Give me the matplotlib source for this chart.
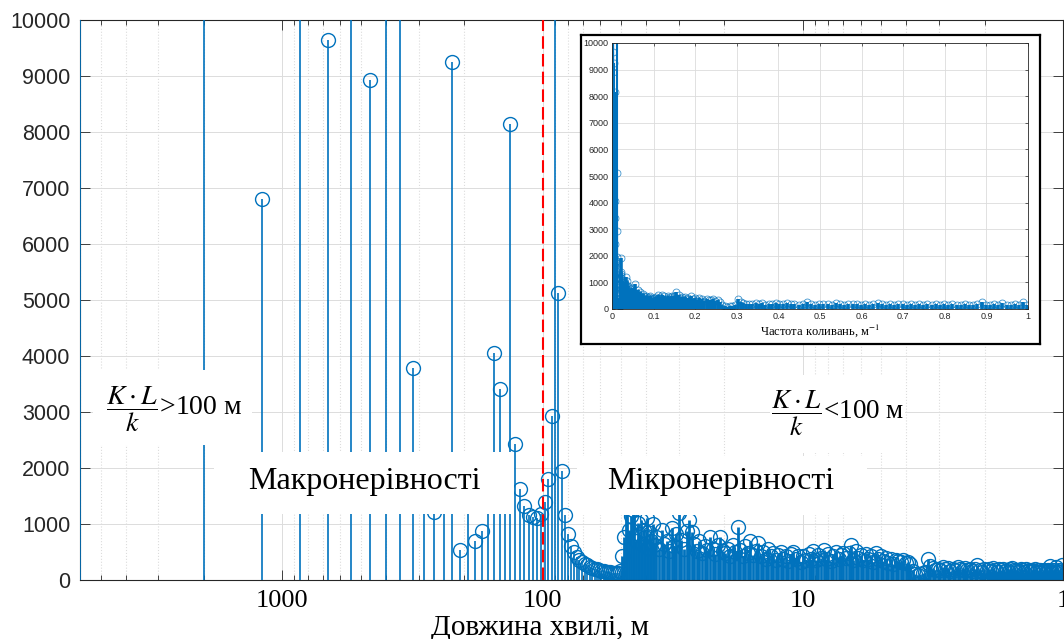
import numpy as np
import matplotlib
matplotlib.use('Agg')
import matplotlib.pyplot as plt
from matplotlib.patches import Rectangle
from matplotlib.ticker import FixedLocator, LogLocator, NullFormatter

# profile length, m (wavelength of harmonic k is L_total / k)
L_total = 6000

# long waves: odd harmonics 1..119 (values above 10000 run off the chart)
k_long = [1, 3, 5, 7, 9, 11, 13, 15, 17, 19,
          21, 23, 25, 27, 29, 31, 33, 35, 37, 39,
          41, 43, 45, 47, 49, 51, 53, 55, 57, 59,
          61, 63, 65, 67, 69, 71, 73, 75, 77, 79,
          81, 83, 85, 87, 89, 91, 93, 95, 97, 99,
          101, 103, 105, 107, 109, 111, 113, 115, 117, 119]
amp_long = [30000, 20000, 6800, 16000, 9650, 14000, 8920, 12000, 11000, 3780,
            1900, 1210, 1800, 9250, 540, 1900, 690, 880, 1600, 4060,
            3410, 1700, 8150, 2430, 1630, 1320, 1160, 1130, 1110, 1170,
            1390, 1800, 2920, 18000, 5130, 1950, 1160, 816, 613, 494,
            417, 360, 320, 290, 262, 240, 220, 205, 190, 178,
            168, 158, 150, 142, 136, 130, 126, 122, 120, 160]

# short waves (dense part of the spectrum), sampled harmonics
k_short = [121, 123, 125, 127, 129, 131, 133, 135, 137, 139, 141, 143, 145, 147, 149,
           151, 153, 155, 157, 159, 161,
           164, 168, 172, 176, 180, 184, 188, 192, 196, 200, 205, 210, 215, 220, 225,
           230, 235, 240, 246, 252, 258, 264, 270, 276, 282, 288, 295,
           302, 309, 316, 323, 330, 337, 345, 353, 361, 369, 377, 386, 395, 404, 413,
           422, 432, 442, 452, 462, 472, 483, 494, 505, 516, 528, 540, 552, 564, 577, 590,
           603, 617, 631, 645, 659, 674, 689, 705, 721, 737, 753, 770, 787, 805, 823,
           841, 860, 879, 899, 919, 939, 960, 981, 1003, 1025, 1048, 1071, 1095, 1119,
           1144, 1169, 1195, 1222, 1249, 1277, 1305, 1334, 1364, 1394,
           1425, 1457, 1489, 1522, 1556, 1591, 1626, 1662, 1699, 1737, 1776, 1815, 1855,
           1896, 1938, 1981, 2025, 2070, 2116, 2163, 2211, 2260, 2310, 2361, 2413, 2466,
           2520, 2575, 2632, 2690, 2750,
           2810, 2870, 2930, 2990, 3050, 3110, 3170, 3230, 3290, 3350,
           3410, 3470, 3530, 3590, 3650, 3710, 3770, 3830, 3890, 3950,
           4010, 4070, 4130, 4190, 4250, 4310, 4370, 4430, 4490, 4550,
           4610, 4670, 4730, 4790, 4850, 4910, 4970, 5030, 5090, 5150,
           5210, 5270, 5330, 5390, 5450, 5510, 5570, 5630, 5690, 5750,
           5810, 5870, 5930, 5990]
amp_short = [420, 760, 1400, 1300, 900, 1150, 1250, 1900, 700, 1020, 830, 1070, 640, 900, 760,
             1100, 580, 840, 700, 1000, 620,
             760, 560, 900, 640, 700, 520, 930, 600, 820, 1190, 720, 560, 880, 1070, 860,
             640, 520, 700, 480, 600, 540, 770, 560, 460, 620, 774, 520,
             480, 560, 430, 620, 500, 950, 540, 420, 600, 480, 700, 440, 520, 655, 420,
             500, 380, 560, 420, 480, 360, 440, 500, 380, 420, 340, 460, 506, 380, 420, 330,
             420, 350, 460, 380, 520, 360, 440, 400, 536, 380, 470, 340, 420, 500, 380,
             450, 480, 400, 480, 625, 360, 520, 400, 440, 360, 460, 380, 420, 330,
             480, 380, 430, 340, 400, 310, 380, 290, 360, 340,
             320, 360, 300, 330, 280, 160, 110, 90, 100, 120, 150, 369, 250,
             220, 180, 200, 170, 230, 190, 210, 160, 200, 180, 240, 190, 170,
             210, 180, 200, 160, 190,
             268, 180, 150, 200, 170, 190, 160, 210, 180, 150,
             190, 170, 200, 160, 180, 150, 190, 210, 170, 150,
             180, 160, 200, 170, 150, 190, 160, 180, 140, 170,
             160, 190, 150, 170, 140, 180, 160, 150, 170, 140,
             160, 180, 250, 160, 140, 170, 150, 230, 160, 140,
             170, 150, 270, 160]

xticks = [1000, 100, 10, 1]
xtick_labels = ['1000', '100', '10', '1']
yticks = [0, 1000, 2000, 3000, 4000, 5000, 6000, 7000, 8000, 9000, 10000]
inset_xticks = [0, 0.1, 0.2, 0.3, 0.4, 0.5, 0.6, 0.7, 0.8, 0.9, 1]
inset_xtick_labels = ['0', '0.1', '0.2', '0.3', '0.4', '0.5', '0.6', '0.7', '0.8', '0.9', '1']

blue = '#0072BD'
grid_col = '#DCDCDC'
axis_col = '#262626'

plt.rcParams['mathtext.fontset'] = 'stix'
W, H = 1064, 639


def fig_box(x0, y0, x1, y1):
    # pixel box (top-left origin) -> figure fraction [left, bottom, width, height]
    return [x0 / W, 1 - y1 / H, (x1 - x0) / W, (y1 - y0) / H]


AX_PX = (80, 20, 1063, 580)


def ax_frac(px, py):
    x0, y0, x1, y1 = AX_PX
    return (px - x0) / (x1 - x0), (y1 - py) / (y1 - y0)


fig = plt.figure(figsize=(W / 100, H / 100), dpi=100)
ax = fig.add_axes(fig_box(*AX_PX))

wl_long = L_total / np.array(k_long, dtype=float)
wl_short = L_total / np.array(k_short, dtype=float)

ml, sl, bl = ax.stem(wl_long, amp_long, linefmt='-', markerfmt='o', basefmt=' ')
plt.setp(sl, color=blue, linewidth=1.2, zorder=2.6)
plt.setp(ml, color=blue, markerfacecolor='none', markersize=10, markeredgewidth=1.0)

ml2, sl2, bl2 = ax.stem(wl_short, amp_short, linefmt='-', markerfmt='o', basefmt=' ')
plt.setp(sl2, color=blue, linewidth=2.0)
plt.setp(ml2, color=blue, markerfacecolor='none', markersize=10, markeredgewidth=1.0)

ax.axvline(100, color='red', linestyle='--', dashes=(6, 2.5), linewidth=1.5, zorder=3)

ax.set_xscale('log')
ax.set_xlim(L_total, 1)
ax.set_ylim(0, 10000)
ax.xaxis.set_major_locator(FixedLocator(xticks))
ax.set_xticklabels(xtick_labels, family='Liberation Serif', fontsize=19)
ax.xaxis.set_minor_locator(LogLocator(base=10, subs=np.arange(2, 10)))
ax.xaxis.set_minor_formatter(NullFormatter())
ax.set_yticks(yticks)
ax.set_yticklabels([str(v) for v in yticks], family='Liberation Sans', fontsize=15.5,
                   color=axis_col)

ax.tick_params(which='both', direction='in', top=True, right=True, color=axis_col, width=0.6)
ax.tick_params(which='major', length=7)
ax.tick_params(which='minor', length=3.5)
ax.tick_params(axis='x', which='major', pad=7)
ax.tick_params(axis='y', which='major', pad=7)
ax.grid(True, which='major', color=grid_col, linewidth=0.7)
ax.grid(True, which='minor', axis='x', color=grid_col, linestyle=':', linewidth=0.8)
ax.set_axisbelow(True)
for s in ax.spines.values():
    s.set_color(axis_col)
    s.set_linewidth(0.8)

ax.set_xlabel('Довжина хвилі, м', family='Liberation Serif', fontsize=21)
ax.xaxis.set_label_coords(*ax_frac(540, 615))

# white label boxes over the stems
for bx in [(93, 370, 252, 445), (214, 452, 514, 514), (577, 456, 867, 515), (770, 375, 905, 453)]:
    fx0, fy0 = ax_frac(bx[0], bx[3])
    fx1, fy1 = ax_frac(bx[2], bx[1])
    ax.add_patch(Rectangle((fx0, fy0), fx1 - fx0, fy1 - fy0, transform=ax.transAxes,
                           facecolor='white', edgecolor='none', zorder=4))

ax.text(*ax_frac(106, 409), r'$\dfrac{K\cdot L}{k}$' + '>100 м', transform=ax.transAxes,
        ha='left', va='center', fontsize=20, family='Liberation Serif', zorder=5)
ax.text(*ax_frac(771, 413), r'$\dfrac{K\cdot L}{k}$' + '<100 м', transform=ax.transAxes,
        ha='left', va='center', fontsize=19.5, family='Liberation Serif', zorder=5)
ax.text(*ax_frac(364, 481), 'Макронерівності', transform=ax.transAxes,
        ha='center', va='center', fontsize=23, family='Liberation Serif', zorder=5)
ax.text(*ax_frac(721, 481), 'Мікронерівності', transform=ax.transAxes,
        ha='center', va='center', fontsize=23, family='Liberation Serif', zorder=5)

# inset: the same spectrum against frequency
frame = fig.add_axes(fig_box(581, 35, 1040, 344))
frame.set_xticks([])
frame.set_yticks([])
for s in frame.spines.values():
    s.set_color('black')
    s.set_linewidth(1.6)

axin = fig.add_axes(fig_box(612, 43, 1028, 309))
f_long = np.array(k_long) / L_total
f_short = np.array(k_short) / L_total
for f, a, lw in [(f_long, amp_long, 1.5), (f_short, amp_short, 2.6)]:
    m, s, b = axin.stem(f, a, linefmt='-', markerfmt='o', basefmt=' ')
    plt.setp(s, color=blue, linewidth=lw)
    plt.setp(m, color=blue, markerfacecolor='none', markersize=5, markeredgewidth=0.6,
             alpha=0.75)
axin.set_xlim(0, 1)
axin.set_ylim(0, 10000)
axin.set_xticks(inset_xticks)
axin.set_xticklabels(inset_xtick_labels, family='Liberation Sans', fontsize=6.5, color=axis_col)
axin.set_yticks(yticks)
axin.set_yticklabels([str(v) for v in yticks], family='Liberation Sans', fontsize=6.5,
                     color=axis_col)
axin.tick_params(direction='in', length=2.5, width=0.5, color=axis_col, pad=2.5,
                 top=True, right=True)
axin.grid(True, color=grid_col, linewidth=0.6)
axin.set_axisbelow(True)
for s in axin.spines.values():
    s.set_color(axis_col)
    s.set_linewidth(0.6)
axin.set_xlabel('Частота коливань, м$^{-1}$', family='Liberation Serif', fontsize=9, labelpad=1)

fig.savefig('out.png', dpi=100)
